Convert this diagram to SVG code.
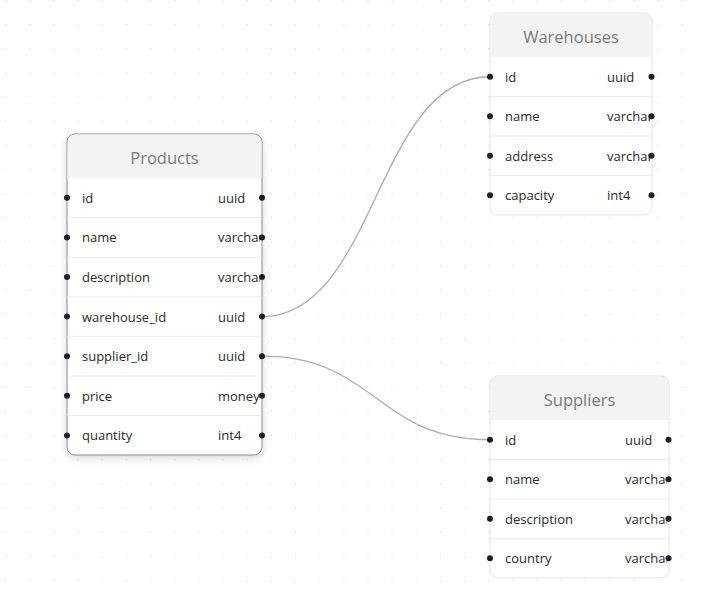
<svg xmlns="http://www.w3.org/2000/svg" width="705" height="589" viewBox="0 0 705 589">
<defs>
<pattern id="grid" x="5" y="0" width="24.17" height="24.17" patternUnits="userSpaceOnUse">
<rect x="-0.8" y="-0.8" width="1.6" height="1.6" fill="#b5b5b5"/>
</pattern>
<filter id="shadow" x="-20%" y="-20%" width="140%" height="140%">
<feDropShadow dx="0" dy="3" stdDeviation="4" flood-color="#000" flood-opacity="0.15"/>
</filter>
<clipPath id="cp-prod"><rect x="67" y="134" width="193" height="321"/></clipPath>
<clipPath id="cp-wh"><rect x="490" y="13" width="160" height="202"/></clipPath>
<clipPath id="cp-sup"><rect x="490" y="376" width="177" height="202"/></clipPath>
</defs>
<style>
.box{fill:#fff;stroke:#e3e3e3;stroke-width:1}
.box.sel{stroke:#8a8a8a}
.hdr{fill:#f3f3f3}
.title{font-family:"Open Sans","Noto Sans",sans-serif;font-size:16.5px;fill:#7a7a7a;text-anchor:middle;dominant-baseline:central}
.f{font-family:"Open Sans","Noto Sans",sans-serif;font-size:13px;fill:#2a2a2a;dominant-baseline:central}
.sep{stroke:#ececec;stroke-width:1}
.dot{fill:#1c1c2e}
.conn{fill:none;stroke:#acacac;stroke-width:1.3}
</style>
<rect width="705" height="589" fill="#fff"/>
<rect width="705" height="589" fill="url(#grid)"/>

<g id="connectors">
<path class="conn" d="M262,316.6 C376,316.6 376,76.75 490,76.75"/>
<path class="conn" d="M262,356.2 C376,356.2 376,439.75 490,439.75"/>
</g>

<g id="products">
<rect class="box sel" x="67" y="134" width="195" height="321" rx="8" filter="url(#shadow)"/>
<path class="hdr" d="M75,134.5 H254 A7.5,7.5 0 0 1 261.5,142 V178 H67.5 V142 A7.5,7.5 0 0 1 75,134.5 Z"/>
<text class="title" x="164.5" y="157">Products</text>
<g class="sep">
<line x1="67.5" y1="217.6" x2="261.5" y2="217.6"/>
<line x1="67.5" y1="257.2" x2="261.5" y2="257.2"/>
<line x1="67.5" y1="296.8" x2="261.5" y2="296.8"/>
<line x1="67.5" y1="336.4" x2="261.5" y2="336.4"/>
<line x1="67.5" y1="376" x2="261.5" y2="376"/>
<line x1="67.5" y1="415.6" x2="261.5" y2="415.6"/>
</g>
<g clip-path="url(#cp-prod)">
<text class="f" x="82" y="197.8">id</text><text class="f" x="218" y="197.8">uuid</text>
<text class="f" x="82" y="237.4">name</text><text class="f" x="218" y="237.4">varchar</text>
<text class="f" x="82" y="277">description</text><text class="f" x="218" y="277">varchar</text>
<text class="f" x="82" y="316.6">warehouse_id</text><text class="f" x="218" y="316.6">uuid</text>
<text class="f" x="82" y="356.2">supplier_id</text><text class="f" x="218" y="356.2">uuid</text>
<text class="f" x="82" y="395.8">price</text><text class="f" x="218" y="395.8">money</text>
<text class="f" x="82" y="435.4">quantity</text><text class="f" x="218" y="435.4">int4</text>
</g>
<g class="dot">
<circle cx="67" cy="197.8" r="3"/><circle cx="262" cy="197.8" r="3"/>
<circle cx="67" cy="237.4" r="3"/><circle cx="262" cy="237.4" r="3"/>
<circle cx="67" cy="277" r="3"/><circle cx="262" cy="277" r="3"/>
<circle cx="67" cy="316.6" r="3"/><circle cx="262" cy="316.6" r="3"/>
<circle cx="67" cy="356.2" r="3"/><circle cx="262" cy="356.2" r="3"/>
<circle cx="67" cy="395.8" r="3"/><circle cx="262" cy="395.8" r="3"/>
<circle cx="67" cy="435.4" r="3"/><circle cx="262" cy="435.4" r="3"/>
</g>
</g>

<g id="warehouses">
<rect class="box" x="490" y="13" width="162" height="202" rx="8"/>
<path class="hdr" d="M498,13.5 H644 A7.5,7.5 0 0 1 651.5,21 V57 H490.5 V21 A7.5,7.5 0 0 1 498,13.5 Z"/>
<text class="title" x="571" y="36">Warehouses</text>
<g class="sep">
<line x1="490.5" y1="96.5" x2="651.5" y2="96.5"/>
<line x1="490.5" y1="136" x2="651.5" y2="136"/>
<line x1="490.5" y1="175.5" x2="651.5" y2="175.5"/>
</g>
<g clip-path="url(#cp-wh)">
<text class="f" x="505" y="76.75">id</text><text class="f" x="607" y="76.75">uuid</text>
<text class="f" x="505" y="116.25">name</text><text class="f" x="607" y="116.25">varchar</text>
<text class="f" x="505" y="155.75">address</text><text class="f" x="607" y="155.75">varchar</text>
<text class="f" x="505" y="195.25">capacity</text><text class="f" x="607" y="195.25">int4</text>
</g>
<g class="dot">
<circle cx="490" cy="76.75" r="3"/><circle cx="651.5" cy="76.75" r="3"/>
<circle cx="490" cy="116.25" r="3"/><circle cx="651.5" cy="116.25" r="3"/>
<circle cx="490" cy="155.75" r="3"/><circle cx="651.5" cy="155.75" r="3"/>
<circle cx="490" cy="195.25" r="3"/><circle cx="651.5" cy="195.25" r="3"/>
</g>
</g>

<g id="suppliers">
<rect class="box" x="490" y="376" width="179" height="202" rx="8"/>
<path class="hdr" d="M498,376.5 H661 A7.5,7.5 0 0 1 668.5,384 V420 H490.5 V384 A7.5,7.5 0 0 1 498,376.5 Z"/>
<text class="title" x="579.5" y="399">Suppliers</text>
<g class="sep">
<line x1="490.5" y1="459.5" x2="668.5" y2="459.5"/>
<line x1="490.5" y1="499" x2="668.5" y2="499"/>
<line x1="490.5" y1="538.5" x2="668.5" y2="538.5"/>
</g>
<g clip-path="url(#cp-sup)">
<text class="f" x="505" y="439.75">id</text><text class="f" x="625" y="439.75">uuid</text>
<text class="f" x="505" y="479.25">name</text><text class="f" x="625" y="479.25">varchar</text>
<text class="f" x="505" y="518.75">description</text><text class="f" x="625" y="518.75">varchar</text>
<text class="f" x="505" y="558.25">country</text><text class="f" x="625" y="558.25">varchar</text>
</g>
<g class="dot">
<circle cx="490" cy="439.75" r="3"/><circle cx="668.5" cy="439.75" r="3"/>
<circle cx="490" cy="479.25" r="3"/><circle cx="668.5" cy="479.25" r="3"/>
<circle cx="490" cy="518.75" r="3"/><circle cx="668.5" cy="518.75" r="3"/>
<circle cx="490" cy="558.25" r="3"/><circle cx="668.5" cy="558.25" r="3"/>
</g>
</g>
</svg>
